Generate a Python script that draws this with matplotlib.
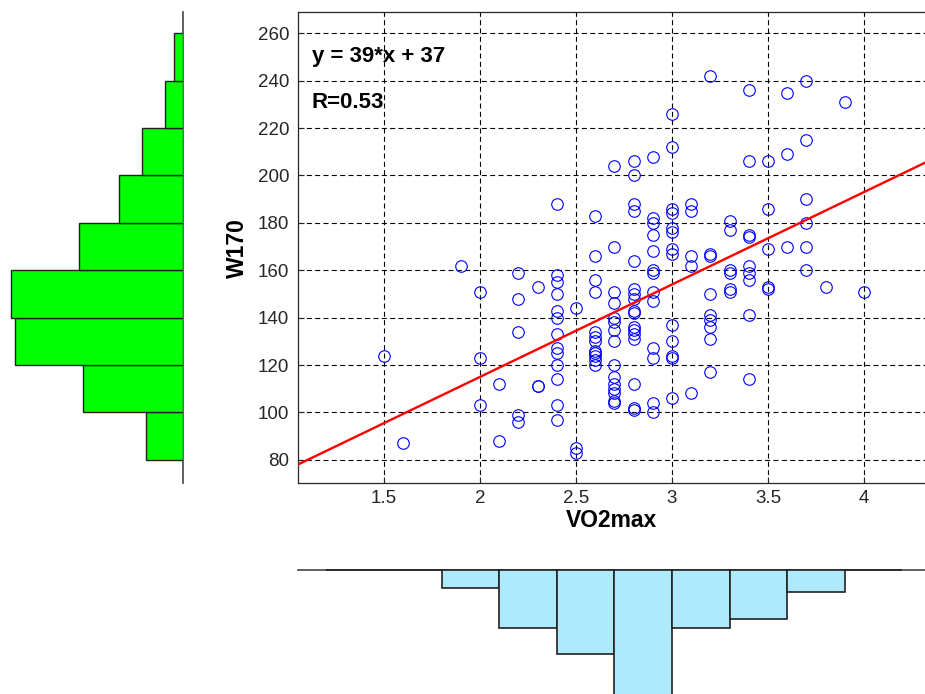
import matplotlib
matplotlib.use("Agg")
import matplotlib.pyplot as plt
import numpy as np

plt.rcParams['font.family'] = ['Liberation Sans', 'DejaVu Sans']

# VO2max vs W170 measurements
vo2max = [1.5, 1.6, 1.9,
          2.0, 2.0, 2.0,
          2.1, 2.1,
          2.2, 2.2, 2.2, 2.2, 2.2,
          2.3, 2.3, 2.3,
          2.4, 2.4, 2.4, 2.4, 2.4, 2.4, 2.4, 2.4, 2.4, 2.4, 2.4, 2.4, 2.4,
          2.5, 2.5, 2.5,
          2.6, 2.6, 2.6, 2.6, 2.6, 2.6, 2.6, 2.6, 2.6, 2.6, 2.6, 2.6,
          2.7, 2.7, 2.7, 2.7, 2.7, 2.7, 2.7, 2.7, 2.7, 2.7, 2.7, 2.7, 2.7, 2.7, 2.7,
          2.8, 2.8, 2.8, 2.8, 2.8, 2.8, 2.8, 2.8, 2.8, 2.8, 2.8, 2.8, 2.8, 2.8, 2.8, 2.8, 2.8,
          2.9, 2.9, 2.9, 2.9, 2.9, 2.9, 2.9, 2.9, 2.9, 2.9, 2.9, 2.9, 2.9,
          3.0, 3.0, 3.0, 3.0, 3.0, 3.0, 3.0, 3.0, 3.0, 3.0, 3.0, 3.0, 3.0,
          3.1, 3.1, 3.1, 3.1, 3.1,
          3.2, 3.2, 3.2, 3.2, 3.2, 3.2, 3.2, 3.2, 3.2,
          3.3, 3.3, 3.3, 3.3, 3.3, 3.3,
          3.4, 3.4, 3.4, 3.4, 3.4, 3.4, 3.4, 3.4, 3.4,
          3.5, 3.5, 3.5, 3.5, 3.5,
          3.6, 3.6, 3.6,
          3.7, 3.7, 3.7, 3.7, 3.7, 3.7,
          3.8, 3.9, 4.0]
w170 = [124, 87, 162,
        151, 123, 103,
        112, 88,
        159, 148, 134, 99, 96,
        153, 111, 111,
        188, 158, 155, 150, 143, 140, 133, 127, 125, 120, 114, 103, 97,
        144, 85, 83,
        183, 166, 156, 151, 134, 132, 130, 126, 125, 124, 122, 120,
        204, 170, 151, 146, 140, 138, 135, 130, 120, 115, 112, 110, 108, 105, 104,
        206, 200, 188, 185, 164, 152, 150, 148, 143, 142, 136, 135, 133, 131, 112, 102, 101,
        208, 182, 180, 175, 168, 160, 159, 151, 147, 127, 123, 104, 100,
        226, 212, 186, 184, 178, 176, 169, 167, 137, 130, 124, 123, 106,
        188, 185, 166, 162, 108,
        242, 167, 166, 150, 141, 139, 136, 131, 117,
        181, 177, 160, 159, 152, 151,
        236, 206, 175, 174, 162, 159, 156, 141, 114,
        206, 186, 169, 153, 152,
        235, 209, 170,
        240, 215, 190, 180, 170, 160,
        153, 231, 151]

# fitted line, as printed on the plot
slope = 39
intercept = 37
r_value = 0.53

# marginal histograms
w_edges = [80, 100, 120, 140, 160, 180, 200, 220, 240, 260]
w_counts = [8, 22, 37, 38, 23, 14, 9, 4, 2]
v_edges = [1.2, 1.5, 1.8, 2.1, 2.4, 2.7, 3.0, 3.3, 3.6, 3.9, 4.2]
v_counts = [0, 0, 4, 13, 19, 45, 13, 11, 5, 0]

x_ticks = [1.5, 2, 2.5, 3, 3.5, 4]
y_ticks = [80, 100, 120, 140, 160, 180, 200, 220, 240, 260]

W, H = 925, 694


def box(x0, y0, x1, y1):
    return [x0 / W, 1 - y1 / H, (x1 - x0) / W, (y1 - y0) / H]


fig = plt.figure(figsize=(W / 100, H / 100), dpi=100)
ax = fig.add_axes(box(297.5, 12, 926, 483.3))
ax_l = fig.add_axes(box(0, 12, 182.7, 483.3))
ax_b = fig.add_axes(box(297.5, 570, 926, 694))

xlim = (1.0495, 4.323)
ylim = (70.1, 269.0)

# scatter + fit
ax.plot(vo2max, w170, 'o', mfc='none', mec='#0000ff', ms=8.3, mew=0.8, zorder=3)
xs = np.array(xlim)
ax.plot(xs, slope * xs + intercept, color='red', lw=1.7, zorder=4)
ax.set_xlim(xlim)
ax.set_ylim(ylim)
ax.set_xticks(x_ticks)
ax.set_xticklabels([f'{t:g}' for t in x_ticks])
ax.set_yticks(y_ticks)
ax.tick_params(direction='in', length=4, width=0.8, labelsize=13.5,
               labelcolor='#262626', color='#262626')
ax.tick_params(axis='x', pad=5)
ax.tick_params(axis='y', pad=6)
ax.grid(True, color='black', linestyle=(0, (4.5, 3)), linewidth=0.8)
for s in ax.spines.values():
    s.set_color('#262626')
    s.set_linewidth(0.9)
ax.set_xlabel('VO2max', fontsize=16.5, fontweight='bold', labelpad=1)
ax.set_ylabel('W170', fontsize=16.5, fontweight='bold', labelpad=6.5)

ax.text(1.125, 248, f'y = {slope}*x + {intercept}', fontsize=16,
        fontweight='bold', va='baseline', ha='left')
ax.text(1.125, 228.5, f'R={r_value:.2f}', fontsize=16,
        fontweight='bold', va='baseline', ha='left')

# left histogram (W170)
w_cent = [(a + b) / 2 for a, b in zip(w_edges[:-1], w_edges[1:])]
ax_l.axvline(0, color='#555555', lw=1.3, clip_on=False, zorder=1)
ax_l.barh(w_cent, w_counts, height=20, color='#00ff00', edgecolor='#222222',
          lw=1, zorder=2)
ax_l.set_xlim(182.7 / 4.53, 0)
ax_l.set_ylim(ylim)
ax_l.axis('off')

# bottom histogram (VO2max), drawn hanging down; empty bins leave a dark edge
v_cent = [(a + b) / 2 for a, b in zip(v_edges[:-1], v_edges[1:])]
ax_b.axhline(0, color='#555555', lw=1.3, clip_on=False, zorder=1)
ax_b.bar(v_cent, v_counts, width=0.3, color='#aeeafc', edgecolor='#222222',
         lw=1.2, zorder=2, clip_on=False)
ax_b.set_xlim(xlim)
ax_b.set_ylim(124 / 4.43, 0)
ax_b.axis('off')

fig.savefig('out.png', dpi=100)
